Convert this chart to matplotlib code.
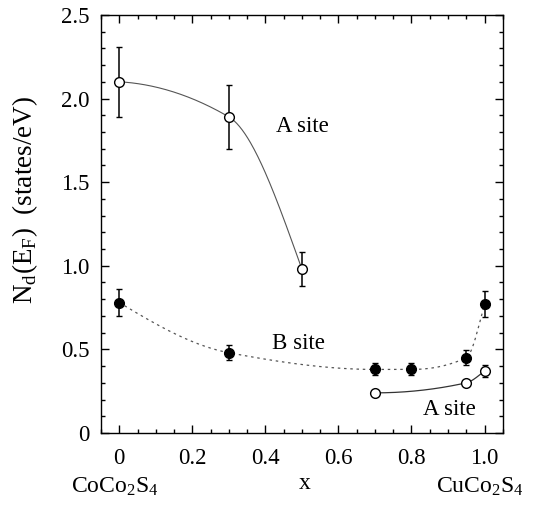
import numpy as np
import matplotlib
matplotlib.use('Agg')
import matplotlib.pyplot as plt
from matplotlib.ticker import MultipleLocator, FixedFormatter, FixedLocator

# Co(1-x)Cu(x)Co2S4 : d-electron DOS at E_F
x_a1 = [0.0, 0.3, 0.5]
n_a1 = [2.10, 1.89, 0.98]
err_a1 = [0.21, 0.19, 0.10]

x_b = [0.0, 0.3, 0.7, 0.8, 0.95, 1.0]
n_b = [0.78, 0.48, 0.38, 0.38, 0.45, 0.77]
err_b = [0.08, 0.045, 0.036, 0.036, 0.045, 0.078]

x_a2 = [0.7, 0.95, 1.0]
n_a2 = [0.24, 0.30, 0.37]
err_a2 = [0.0, 0.018, 0.038]

xtick_vals = [0, 0.2, 0.4, 0.6, 0.8, 1.0]
xtick_labels = ['0', '0.2', '0.4', '0.6', '0.8', '1.0']
ytick_vals = [0, 0.5, 1.0, 1.5, 2.0, 2.5]
ytick_labels = ['0', '0.5', '1.0', '1.5', '2.0', '2.5']


def smooth_curve(x, y, num=200):
    # monotone cubic hermite guide curve through the points
    x = np.asarray(x, float)
    y = np.asarray(y, float)
    h = np.diff(x)
    d = np.diff(y) / h
    n = len(x)
    m = np.zeros(n)
    for k in range(1, n - 1):
        if d[k - 1] * d[k] <= 0:
            m[k] = 0.0
        else:
            w1 = 2 * h[k] + h[k - 1]
            w2 = h[k] + 2 * h[k - 1]
            m[k] = (w1 + w2) / (w1 / d[k - 1] + w2 / d[k])

    def end_slope(h0, h1, d0, d1, m_in):
        s = ((2 * h0 + h1) * d0 - h0 * d1) / (h0 + h1)
        if np.sign(s) != np.sign(d0):
            # parabolic end segment
            s = 2 * d0 - m_in
            if np.sign(s) != np.sign(d0):
                s = 0.0
        return s

    m[0] = end_slope(h[0], h[1], d[0], d[1], m[1])
    m[-1] = end_slope(h[-1], h[-2], d[-1], d[-2], m[-2])

    xs = np.linspace(x[0], x[-1], num)
    idx = np.clip(np.searchsorted(x, xs) - 1, 0, n - 2)
    t = (xs - x[idx]) / h[idx]
    h00 = 2 * t**3 - 3 * t**2 + 1
    h10 = t**3 - 2 * t**2 + t
    h01 = -2 * t**3 + 3 * t**2
    h11 = t**3 - t**2
    ys = h00 * y[idx] + h10 * h[idx] * m[idx] + h01 * y[idx + 1] + h11 * h[idx] * m[idx + 1]
    return xs, ys


plt.rcParams['font.family'] = 'Liberation Serif'
plt.rcParams['mathtext.fontset'] = 'custom'
plt.rcParams['mathtext.rm'] = 'Liberation Serif'

fig = plt.figure(figsize=(5.43, 5.22), dpi=100)
ax = fig.add_axes([0.186, 0.1705, 0.740, 0.801])

line_col = '#555555'

xs, ys = smooth_curve(x_a1, n_a1)
ax.plot(xs, ys, color=line_col, lw=0.8, zorder=1)
xs, ys = smooth_curve(x_b, n_b)
ax.plot(xs, ys, color=line_col, lw=0.9, ls=(0, (2, 3)), zorder=1)
xs, ys = smooth_curve(x_a2, n_a2)
ax.plot(xs, ys, color='#333333', lw=0.9, zorder=1)

ebkw = dict(ls='none', marker='o', ms=7, mew=1.0, mec='black',
            ecolor='black', elinewidth=1.1, capsize=2.5, capthick=1.1, zorder=3)
ax.errorbar(x_a1, n_a1, yerr=err_a1, mfc='white', **ebkw)
ax.errorbar(x_b, n_b, yerr=err_b, mfc='black', **ebkw)
ax.errorbar(x_a2, n_a2, yerr=err_a2, mfc='white', **ebkw)

ax.text(0.43, 1.83, 'A site', fontsize=16.5, va='center', ha='left')
ax.text(0.419, 0.536, 'B site', fontsize=16.5, va='center', ha='left')
ax.text(0.832, 0.142, 'A site', fontsize=16.5, va='center', ha='left')

ax.set_xlim(-0.05, 1.05)
ax.set_ylim(0, 2.5)

ax.xaxis.set_major_locator(FixedLocator(xtick_vals))
ax.xaxis.set_major_formatter(FixedFormatter(xtick_labels))
ax.xaxis.set_minor_locator(MultipleLocator(0.05))
ax.yaxis.set_major_locator(FixedLocator(ytick_vals))
ax.yaxis.set_major_formatter(FixedFormatter(ytick_labels))
ax.yaxis.set_minor_locator(MultipleLocator(0.1))

ax.tick_params(which='both', direction='in', top=True, right=True, width=1.0)
ax.tick_params(which='major', length=6, labelsize=16.5)
ax.tick_params(which='minor', length=3)
ax.tick_params(axis='x', which='major', pad=11)
ax.tick_params(axis='y', which='major', pad=8)
for sp in ax.spines.values():
    sp.set_linewidth(1.0)

fig.text(0.046, 0.617, r'N$_\mathregular{d}$(E$_\mathregular{F}$)  (states/eV)',
         rotation=90, ha='center', va='center', fontsize=19.5)

fig.text(0.212, 0.068, r'$\mathregular{CoCo_2S_4}$', ha='center', va='center', fontsize=17)
fig.text(0.562, 0.073, 'x', ha='center', va='center', fontsize=17)
fig.text(0.884, 0.068, r'$\mathregular{CuCo_2S_4}$', ha='center', va='center', fontsize=17)

fig.savefig('out.png', dpi=100)
